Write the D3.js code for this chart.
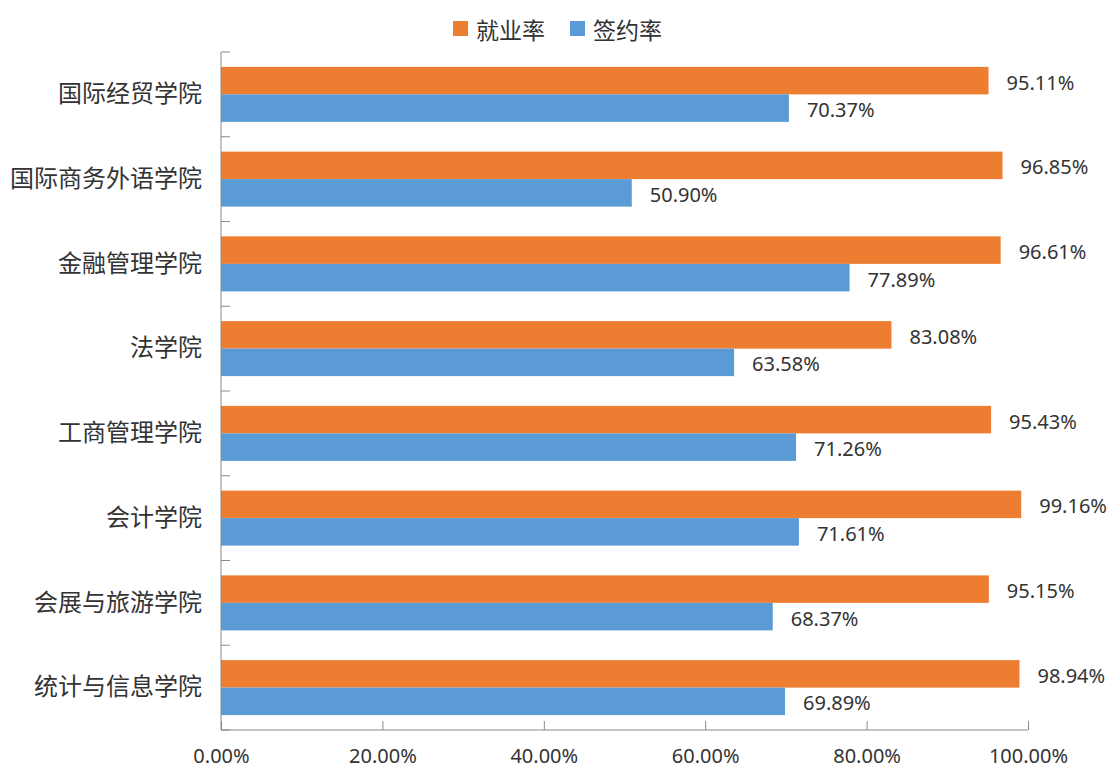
<!DOCTYPE html>
<html>
<head>
<meta charset="utf-8">
<script src="https://cdn.jsdelivr.net/npm/d3@7/dist/d3.min.js"></script>
<style>
  html, body { margin: 0; padding: 0; background: #fff; }
  svg { display: block; }
  text { font-family: "Noto Sans", "Noto Sans CJK SC", sans-serif; fill: #333; }
</style>
</head>
<body>
<svg id="chart" width="1112" height="769"></svg>
<script>
const categories = ["国际经贸学院", "国际商务外语学院", "金融管理学院", "法学院", "工商管理学院", "会计学院", "会展与旅游学院", "统计与信息学院"];
const seriesNames = ["就业率", "签约率"];
const employmentRate = [95.11, 96.85, 96.61, 83.08, 95.43, 99.16, 95.15, 98.94];
const signingRate = [70.37, 50.90, 77.89, 63.58, 71.26, 71.61, 68.37, 69.89];
const xTicks = [0, 20, 40, 60, 80, 100];
const colors = ["#ED7D31", "#5B9BD5"];

(function () {
const svg = d3.select("#chart");
const pLeft = 221, pRight = 1028, pTop = 52, pBottom = 730;
const axisColor = "#898989";

const x = d3.scaleLinear().domain([0, 100]).range([pLeft, pRight]);
const y = d3.scaleBand().domain(categories).range([pTop, pBottom]).paddingInner(0.351).paddingOuter(0.1755);
const ySub = d3.scaleBand().domain(seriesNames).range([0, y.bandwidth()]);

const rows = categories.map((c, i) => ({ cat: c, vals: [employmentRate[i], signingRate[i]] }));

const g = svg.append("g");
const groups = g.selectAll("g.cat").data(rows).join("g").attr("class", "cat")
  .attr("transform", d => `translate(0,${y(d.cat)})`);

groups.selectAll("rect").data(d => d.vals.map((v, j) => ({ v, s: seriesNames[j], j })))
  .join("rect")
  .attr("x", x(0))
  .attr("y", d => ySub(d.s))
  .attr("width", d => x(d.v) - x(0))
  .attr("height", ySub.bandwidth())
  .attr("fill", d => colors[d.j]);

groups.selectAll("text.lbl").data(d => d.vals.map((v, j) => ({ v, s: seriesNames[j], j })))
  .join("text").attr("class", "lbl")
  .attr("x", d => x(d.v) + 18)
  .attr("y", d => ySub(d.s) + ySub.bandwidth() / 2 + 1.5)
  .attr("dominant-baseline", "central")
  .style("font-size", "20px")
  .text(d => d.v.toFixed(2) + "%");

// Bottom axis
const xAxis = d3.axisBottom(x).tickValues(xTicks).tickSize(0).tickPadding(0).tickFormat(d => d.toFixed(2) + "%");
const xg = svg.append("g").attr("transform", `translate(0,${pBottom})`).call(xAxis);
xg.select(".domain").attr("stroke", axisColor).attr("d", `M${pLeft},0H${pRight}`);
xg.selectAll(".tick line").attr("stroke", axisColor).attr("y2", -9);
xg.selectAll(".tick text").attr("y", 33).attr("dy", null)
  .style("font-size", "20px").style("font-family", '"Noto Sans", sans-serif').attr("fill", "#333");

// Left axis
const yAxis = d3.axisLeft(y).tickSize(0).tickPadding(19);
const yg = svg.append("g").attr("transform", `translate(${pLeft},0)`).call(yAxis);
yg.select(".domain").attr("stroke", axisColor).attr("d", `M0,${pTop}V${pBottom}`);
yg.selectAll(".tick text").style("font-size", "24px").attr("fill", "#222")
  .style("font-family", '"Noto Sans CJK SC", sans-serif');
const bvals = d3.range(categories.length + 1).map(i => pTop + i * y.step());
yg.selectAll("line.btick").data(bvals).join("line").attr("class", "btick")
  .attr("x1", 0).attr("x2", 9).attr("y1", d => d).attr("y2", d => d)
  .attr("stroke", axisColor);

// Legend
const legend = svg.append("g");
const legendItems = [{ name: seriesNames[0], x: 453 }, { name: seriesNames[1], x: 570 }];
legendItems.forEach((it, i) => {
  legend.append("rect").attr("x", it.x).attr("y", 21).attr("width", 15).attr("height", 15).attr("fill", colors[i]);
  legend.append("text").attr("x", it.x + 23).attr("y", 29).attr("dominant-baseline", "central")
    .style("font-size", "23px").style("font-family", '"Noto Sans CJK SC", sans-serif').attr("fill", "#222").text(it.name);
});
})();
</script>
</body>
</html>
